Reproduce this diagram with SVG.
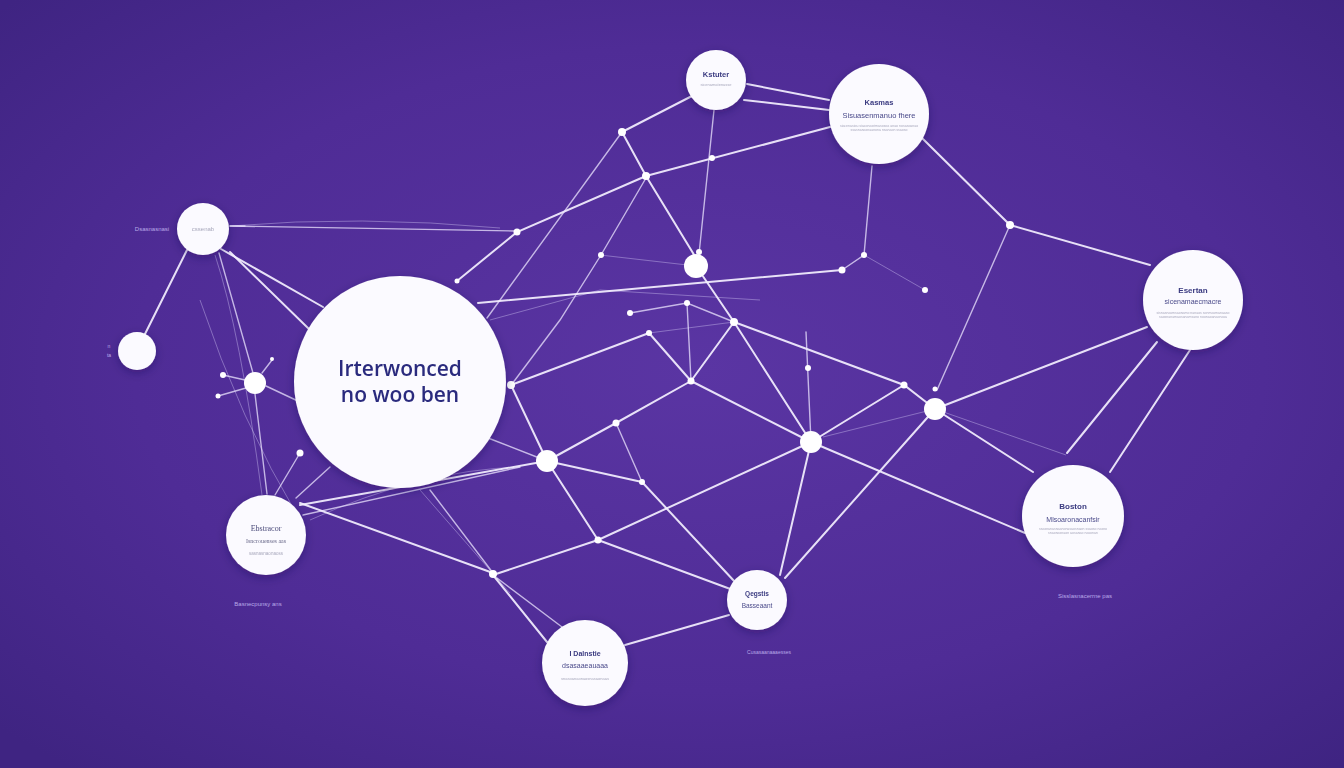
<svg xmlns="http://www.w3.org/2000/svg" width="1344" height="768" viewBox="0 0 1344 768">
<defs>
<radialGradient id="bg" cx="52%" cy="48%" r="70%">
<stop offset="0" stop-color="#5a35a3"/>
<stop offset="0.6" stop-color="#4f2c96"/>
<stop offset="1" stop-color="#3f2482"/>
</radialGradient>
<filter id="sh" x="-30%" y="-30%" width="160%" height="160%">
<feDropShadow dx="0" dy="3" stdDeviation="5" flood-color="#1e0d4a" flood-opacity="0.35"/>
</filter>
<filter id="glow" x="-50%" y="-50%" width="200%" height="200%">
<feGaussianBlur stdDeviation="1.2"/>
</filter>
<style>
.l{stroke:#f4f0ff;stroke-width:2;fill:none;stroke-linecap:round;opacity:.92}
.m{stroke:#ece6ff;stroke-width:1.4;fill:none;stroke-linecap:round;opacity:.75}
.t{stroke:#d8cdf7;stroke-width:1;fill:none;opacity:.4}
.node{fill:#fbfaff}
.dot{fill:#ffffff}
.h{font-family:"Liberation Sans",Arial,sans-serif;font-weight:bold;fill:#3a3a80;text-anchor:middle}
.s{font-family:"Liberation Sans",Arial,sans-serif;fill:#4a4a8a;text-anchor:middle}
.g{font-family:"Liberation Sans",Arial,sans-serif;fill:#a8a8bc;text-anchor:middle}
.lab{font-family:"Liberation Sans",Arial,sans-serif;fill:#b9a9e8;text-anchor:middle}
.big{font-family:"Open Sans","Liberation Sans",Arial,sans-serif;fill:#2c2c7e;text-anchor:middle;font-weight:600}
</style>
</defs>
<rect width="1344" height="768" fill="url(#bg)"/>

<g id="connectors">
<!-- faint background strands -->
<path class="t" d="M230,226 Q360,215 500,228"/>
<path class="t" d="M215,255 Q240,330 262,495"/>
<path class="t" d="M420,490 L510,593"/>
<path class="t" d="M823,437 L935,409"/>
<path class="t" d="M935,409 L1066,455"/>
<path class="t" d="M864,255 L925,290"/>
<path class="t" d="M649,333 L734,322"/>
<path class="t" d="M600,255 L696,266"/>
<path class="t" d="M490,320 L600,290 L760,300"/>
<path class="t" d="M310,520 Q420,470 520,467"/>
<path class="t" d="M200,300 Q240,420 300,520"/>
<!-- top cluster -->
<path class="l" d="M747,84 L829,100"/>
<path class="l" d="M744,100 L829,110"/>
<path class="l" d="M692,96 L622,132"/>
<path class="l" d="M622,132 L646,176 L696,258"/>
<path class="l" d="M646,176 L830,127"/>
<path class="m" d="M714,110 L699,254"/>
<path class="l" d="M457,281 L517,232 L646,176"/>
<path class="m" d="M622,132 L487,318"/>
<path class="m" d="M646,178 L601,255 L560,320 L512,384"/>
<path class="m" d="M230,226 L515,231"/>
<path class="l" d="M478,303 L842,270"/>
<path class="m" d="M872,166 L864,255 L842,270"/>
<path class="l" d="M922,138 L1010,225 L1150,265"/>
<path class="m" d="M1010,225 L937,390"/>
<!-- middle -->
<path class="l" d="M696,266 L734,322"/>
<path class="l" d="M734,322 L904,385 L935,409"/>
<path class="l" d="M734,322 L811,442"/>
<path class="m" d="M806,332 L811,442"/>
<path class="l" d="M811,442 L904,385"/>
<path class="l" d="M935,409 L1147,327"/>
<path class="l" d="M935,409 L1033,472"/>
<path class="l" d="M1157,342 L1067,453"/>
<path class="l" d="M1190,350 L1110,472"/>
<path class="l" d="M811,442 L1025,533"/>
<path class="l" d="M811,442 L780,575"/>
<path class="l" d="M935,409 L785,578"/>
<path class="l" d="M811,442 L598,540"/>
<path class="l" d="M598,540 L493,575"/>
<path class="l" d="M598,540 L733,590"/>
<path class="l" d="M547,461 L598,540"/>
<path class="l" d="M547,461 L616,423 L691,381"/>
<path class="l" d="M691,381 L734,322"/>
<path class="l" d="M691,381 L649,333"/>
<path class="l" d="M691,381 L811,442"/>
<path class="m" d="M687,303 L691,381"/>
<path class="m" d="M630,313 L687,303 L734,322"/>
<path class="l" d="M511,385 L649,333"/>
<path class="l" d="M511,385 L547,461"/>
<path class="l" d="M547,461 L642,482"/>
<path class="l" d="M642,482 L735,582"/>
<path class="m" d="M616,423 L642,482"/>
<path class="l" d="M493,575 L547,642"/>
<path class="m" d="M497,578 L562,627"/>
<path class="l" d="M625,645 L729,615"/>
<path class="m" d="M488,438 L547,461"/>
<!-- left cluster -->
<path class="l" d="M300,505 L547,461"/>
<path class="m" d="M303,515 L520,467"/>
<path class="l" d="M300,503 L493,573"/>
<path class="m" d="M430,490 L493,573"/>
<path class="l" d="M221,249 L323,307"/>
<path class="l" d="M230,252 L310,330"/>
<path class="m" d="M219,253 L253,373"/>
<path class="m" d="M266,386 L300,402"/>
<path class="m" d="M255,394 L267,494"/>
<path class="m" d="M245,380 L223,375"/>
<path class="m" d="M246,388 L218,396"/>
<path class="m" d="M262,373 L272,360"/>
<path class="m" d="M300,453 L275,495"/>
<path class="m" d="M330,467 L296,498"/>
<path class="l" d="M145,334 L187,250"/>
<path class="m" d="M230,226 L245,226"/>
</g>

<g id="junctions">
<circle class="dot" cx="622" cy="132" r="4"/>
<circle class="dot" cx="646" cy="176" r="4"/>
<circle class="dot" cx="712" cy="158" r="3"/>
<circle class="dot" cx="517" cy="232" r="3.5"/>
<circle class="dot" cx="601" cy="255" r="3"/>
<circle class="dot" cx="699" cy="252" r="3"/>
<circle class="dot" cx="864" cy="255" r="3"/>
<circle class="dot" cx="842" cy="270" r="3.5"/>
<circle class="dot" cx="925" cy="290" r="3"/>
<circle class="dot" cx="1010" cy="225" r="4"/>
<circle class="dot" cx="734" cy="322" r="4"/>
<circle class="dot" cx="649" cy="333" r="3"/>
<circle class="dot" cx="687" cy="303" r="3"/>
<circle class="dot" cx="630" cy="313" r="3"/>
<circle class="dot" cx="691" cy="381" r="3.5"/>
<circle class="dot" cx="616" cy="423" r="3.5"/>
<circle class="dot" cx="642" cy="482" r="3"/>
<circle class="dot" cx="598" cy="540" r="3.5"/>
<circle class="dot" cx="493" cy="574" r="4"/>
<circle class="dot" cx="808" cy="368" r="3"/>
<circle class="dot" cx="904" cy="385" r="3.5"/>
<circle class="dot" cx="935" cy="389" r="2.5"/>
<circle class="dot" cx="223" cy="375" r="3"/>
<circle class="dot" cx="218" cy="396" r="2.5"/>
<circle class="dot" cx="272" cy="359" r="2"/>
<circle class="dot" cx="300" cy="453" r="3.5"/>
<circle class="dot" cx="511" cy="385" r="4"/>
<circle class="dot" cx="457" cy="281" r="2.5"/>
</g>

<g id="j-696-266"><circle class="dot" cx="696" cy="266" r="12"/></g>
<g id="j-547-461"><circle class="dot" cx="547" cy="461" r="11"/></g>
<g id="j-811-442"><circle class="dot" cx="811" cy="442" r="11"/></g>
<g id="j-935-409"><circle class="dot" cx="935" cy="409" r="11"/></g>
<g id="j-255-383"><circle class="dot" cx="255" cy="383" r="11"/></g>

<g id="node-main" filter="url(#sh)">
<circle class="node" cx="400" cy="382" r="106"/>
<text class="big" x="400" y="376" font-size="21">Irterwonced</text>
<text class="big" x="400" y="402" font-size="21">no woo ben</text>
</g>

<g id="node-top" filter="url(#sh)">
<circle class="node" cx="716" cy="80" r="30"/>
<text class="h" x="716" y="77" font-size="7.5">Kstuter</text>
<text class="g" x="716" y="86" font-size="4">sicenamatenasse</text>
</g>

<g id="node-top-right" filter="url(#sh)">
<circle class="node" cx="879" cy="114" r="50"/>
<text class="h" x="879" y="105" font-size="7.5">Kasmas</text>
<text class="s" x="879" y="118" font-size="7.5">Sisuasenmanuo fhere</text>
<text class="g" x="879" y="127" font-size="3.5">siacenasiou siaconasrimasoeas anao nosasoanao</text>
<text class="g" x="879" y="131" font-size="3.5">ssasnanasnaanona nsanaon ssaoso</text>
</g>

<g id="node-left-top" filter="url(#sh)">
<circle class="node" cx="203" cy="229" r="26"/>
<text class="g" x="203" y="231" font-size="6">cssenab</text>
</g>
<text class="lab" x="152" y="231" font-size="6">Dsasnasnasi</text>

<g id="node-left-small" filter="url(#sh)">
<circle class="node" cx="137" cy="351" r="19"/>
</g>
<text class="lab" x="109" y="348" font-size="5">n</text>
<text class="lab" x="109" y="357" font-size="5">ta</text>

<g id="node-right" filter="url(#sh)">
<circle class="node" cx="1193" cy="300" r="50"/>
<text class="h" x="1193" y="293" font-size="8">Esertan</text>
<text class="s" x="1193" y="304" font-size="7">sicenamaecmacre</text>
<text class="g" x="1193" y="314" font-size="3.5">sisnasnasmsaonamo nanaos sonmasmanaaso</text>
<text class="g" x="1193" y="318" font-size="3.5">saosnanamaosanamsano noonaoanaonasa</text>
</g>

<g id="node-right-bottom" filter="url(#sh)">
<circle class="node" cx="1073" cy="516" r="51"/>
<text class="h" x="1073" y="509" font-size="8">Boston</text>
<text class="s" x="1073" y="522" font-size="7">Mlsoaronacanfsir</text>
<text class="g" x="1073" y="530" font-size="3.5">ssasnanasnaanonasaosnaon ssaoso nasno</text>
<text class="g" x="1073" y="534" font-size="3.5">snaonasnaon aosanao nasonan</text>
</g>
<text class="lab" x="1085" y="598" font-size="6">Sisslasnacerrne pas</text>

<g id="node-left-bottom" filter="url(#sh)">
<circle class="node" cx="266" cy="535" r="40"/>
<text x="266" y="531" font-size="8" font-family="Liberation Serif,serif" fill="#4a4a7a" text-anchor="middle">Ebstracor</text>
<text x="266" y="543" font-size="6" font-family="Liberation Serif,serif" fill="#6a6a8a" text-anchor="middle">Isncrouenses aas</text>
<text class="g" x="266" y="555" font-size="4.5">sasnasnaonaoss</text>
</g>
<text class="lab" x="258" y="606" font-size="6">Basnecpunsy ans</text>

<g id="node-bottom-mid" filter="url(#sh)">
<circle class="node" cx="757" cy="600" r="30"/>
<text class="h" x="757" y="596" font-size="6.5">Qegstis</text>
<text class="s" x="757" y="608" font-size="6.5">Basseaant</text>
</g>
<text class="lab" x="769" y="654" font-size="5">Cusasaanaaaesses</text>

<g id="node-bottom" filter="url(#sh)">
<circle class="node" cx="585" cy="663" r="43"/>
<text class="h" x="585" y="656" font-size="7">I Dalnstie</text>
<text class="s" x="585" y="668" font-size="7">dsasaaeauaaa</text>
<text class="g" x="585" y="680" font-size="4">snasoanaonaosnasaonaas</text>
</g>
</svg>
